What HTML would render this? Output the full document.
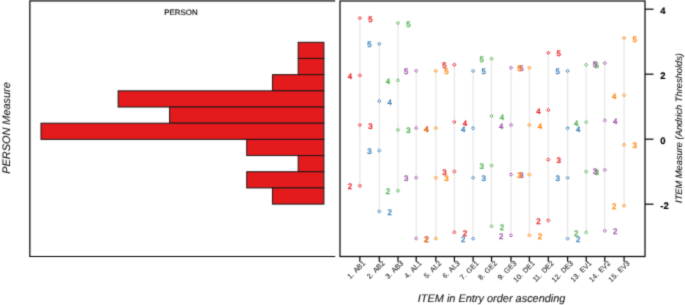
<!DOCTYPE html><html><head><meta charset="utf-8"><style>html,body{margin:0;padding:0;background:#fff;overflow:hidden}svg{display:block;}text{font-family:"Liberation Sans",sans-serif;text-rendering:geometricPrecision}</style></head><body>
<svg width="685" height="305" viewBox="0 0 685 305">
<rect width="685" height="305" fill="#fff"/>
<defs><filter id="bl" filterUnits="userSpaceOnUse" x="-5" y="-5" width="695" height="315" color-interpolation-filters="sRGB"><feConvolveMatrix order="3" kernelMatrix="0.0225 0.105 0.0225 0.105 0.49 0.105 0.0225 0.105 0.0225" edgeMode="duplicate" preserveAlpha="true"/></filter></defs><g filter="url(#bl)">
<rect x="-5" y="-5" width="695" height="315" fill="#fff"/>
<rect x="298.18" y="42.30" width="25.72" height="16.18" fill="#E41A1C" stroke="#1a1a1a" stroke-width="1"/>
<rect x="298.18" y="58.48" width="25.72" height="16.18" fill="#E41A1C" stroke="#1a1a1a" stroke-width="1"/>
<rect x="272.46" y="74.66" width="51.44" height="16.18" fill="#E41A1C" stroke="#1a1a1a" stroke-width="1"/>
<rect x="118.14" y="90.84" width="205.76" height="16.18" fill="#E41A1C" stroke="#1a1a1a" stroke-width="1"/>
<rect x="169.58" y="107.02" width="154.32" height="16.18" fill="#E41A1C" stroke="#1a1a1a" stroke-width="1"/>
<rect x="40.98" y="123.20" width="282.92" height="16.18" fill="#E41A1C" stroke="#1a1a1a" stroke-width="1"/>
<rect x="246.74" y="139.38" width="77.16" height="16.18" fill="#E41A1C" stroke="#1a1a1a" stroke-width="1"/>
<rect x="298.18" y="155.56" width="25.72" height="16.18" fill="#E41A1C" stroke="#1a1a1a" stroke-width="1"/>
<rect x="246.74" y="171.74" width="77.16" height="16.18" fill="#E41A1C" stroke="#1a1a1a" stroke-width="1"/>
<rect x="272.46" y="187.92" width="51.44" height="16.18" fill="#E41A1C" stroke="#1a1a1a" stroke-width="1"/>
<path d="M335.2,0.95 H29.85 V256.5 H335.2" fill="none" stroke="#000" stroke-width="1.22"/>
<text x="181" y="15.0" font-size="7.9" text-anchor="middle" fill="#111" stroke="#111" stroke-width="0.2">PERSON</text>
<text transform="translate(10.3,128) rotate(-90)" font-size="10.9" font-style="italic" text-anchor="middle" fill="#111" stroke="#111" stroke-width="0.08">PERSON Measure</text>
<rect x="340.0" y="0.95" width="305.0" height="255.55" fill="none" stroke="#000" stroke-width="1.22"/>
<line x1="359.85" y1="18.12" x2="359.85" y2="185.81" stroke="#e4e4e4" stroke-width="1.1"/>
<line x1="379.30" y1="43.77" x2="379.30" y2="211.46" stroke="#e4e4e4" stroke-width="1.1"/>
<line x1="397.95" y1="23.07" x2="397.95" y2="190.76" stroke="#e4e4e4" stroke-width="1.1"/>
<line x1="416.20" y1="70.77" x2="416.20" y2="238.46" stroke="#e4e4e4" stroke-width="1.1"/>
<line x1="435.85" y1="70.86" x2="435.85" y2="238.56" stroke="#e4e4e4" stroke-width="1.1"/>
<line x1="454.40" y1="64.67" x2="454.40" y2="232.37" stroke="#e4e4e4" stroke-width="1.1"/>
<line x1="473.10" y1="70.92" x2="473.10" y2="238.62" stroke="#e4e4e4" stroke-width="1.1"/>
<line x1="491.55" y1="58.67" x2="491.55" y2="226.37" stroke="#e4e4e4" stroke-width="1.1"/>
<line x1="511.00" y1="67.72" x2="511.00" y2="235.42" stroke="#e4e4e4" stroke-width="1.1"/>
<line x1="529.35" y1="67.69" x2="529.35" y2="235.39" stroke="#e4e4e4" stroke-width="1.1"/>
<line x1="548.30" y1="52.77" x2="548.30" y2="220.46" stroke="#e4e4e4" stroke-width="1.1"/>
<line x1="567.60" y1="70.92" x2="567.60" y2="238.62" stroke="#e4e4e4" stroke-width="1.1"/>
<line x1="586.20" y1="64.77" x2="586.20" y2="232.46" stroke="#e4e4e4" stroke-width="1.1"/>
<line x1="604.80" y1="63.09" x2="604.80" y2="230.79" stroke="#e4e4e4" stroke-width="1.1"/>
<line x1="624.10" y1="37.97" x2="624.10" y2="205.66" stroke="#e4e4e4" stroke-width="1.1"/>
<path d="M359.85,184.22 L361.45,185.81 L359.85,187.41 L358.25,185.81 Z" fill="#fff" stroke="#E41A1C" stroke-width="1.0"/>
<text x="349.95" y="189.39" font-size="7.9" font-weight="normal" text-anchor="middle" fill="#E41A1C" stroke="#E41A1C" stroke-width="0.33">2</text>
<path d="M359.85,123.37 L361.45,124.97 L359.85,126.56 L358.25,124.97 Z" fill="#fff" stroke="#E41A1C" stroke-width="1.0"/>
<text x="370.35" y="128.54" font-size="7.9" font-weight="normal" text-anchor="middle" fill="#E41A1C" stroke="#E41A1C" stroke-width="0.33">3</text>
<path d="M359.85,73.82 L361.45,75.42 L359.85,77.02 L358.25,75.42 Z" fill="#fff" stroke="#E41A1C" stroke-width="1.0"/>
<text x="349.95" y="78.99" font-size="7.9" font-weight="normal" text-anchor="middle" fill="#E41A1C" stroke="#E41A1C" stroke-width="0.33">4</text>
<path d="M359.85,16.52 L361.45,18.12 L359.85,19.72 L358.25,18.12 Z" fill="#fff" stroke="#E41A1C" stroke-width="1.0"/>
<text x="370.35" y="21.69" font-size="7.9" font-weight="normal" text-anchor="middle" fill="#E41A1C" stroke="#E41A1C" stroke-width="0.33">5</text>
<path d="M379.30,209.86 L380.90,211.46 L379.30,213.06 L377.70,211.46 Z" fill="#fff" stroke="#377EB8" stroke-width="1.0"/>
<text x="389.80" y="215.04" font-size="7.9" font-weight="normal" text-anchor="middle" fill="#377EB8" stroke="#377EB8" stroke-width="0.33">2</text>
<path d="M379.30,149.02 L380.90,150.62 L379.30,152.22 L377.70,150.62 Z" fill="#fff" stroke="#377EB8" stroke-width="1.0"/>
<text x="369.40" y="154.19" font-size="7.9" font-weight="normal" text-anchor="middle" fill="#377EB8" stroke="#377EB8" stroke-width="0.33">3</text>
<path d="M379.30,99.47 L380.90,101.06 L379.30,102.66 L377.70,101.06 Z" fill="#fff" stroke="#377EB8" stroke-width="1.0"/>
<text x="389.80" y="104.64" font-size="7.9" font-weight="normal" text-anchor="middle" fill="#377EB8" stroke="#377EB8" stroke-width="0.33">4</text>
<path d="M379.30,42.16 L380.90,43.77 L379.30,45.37 L377.70,43.77 Z" fill="#fff" stroke="#377EB8" stroke-width="1.0"/>
<text x="369.40" y="47.34" font-size="7.9" font-weight="normal" text-anchor="middle" fill="#377EB8" stroke="#377EB8" stroke-width="0.33">5</text>
<path d="M397.95,189.16 L399.55,190.76 L397.95,192.36 L396.35,190.76 Z" fill="#fff" stroke="#4DAF4A" stroke-width="1.0"/>
<text x="388.05" y="194.34" font-size="7.9" font-weight="normal" text-anchor="middle" fill="#4DAF4A" stroke="#4DAF4A" stroke-width="0.33">2</text>
<path d="M397.95,128.32 L399.55,129.92 L397.95,131.52 L396.35,129.92 Z" fill="#fff" stroke="#4DAF4A" stroke-width="1.0"/>
<text x="408.45" y="133.49" font-size="7.9" font-weight="normal" text-anchor="middle" fill="#4DAF4A" stroke="#4DAF4A" stroke-width="0.33">3</text>
<path d="M397.95,78.77 L399.55,80.37 L397.95,81.97 L396.35,80.37 Z" fill="#fff" stroke="#4DAF4A" stroke-width="1.0"/>
<text x="388.05" y="83.94" font-size="7.9" font-weight="normal" text-anchor="middle" fill="#4DAF4A" stroke="#4DAF4A" stroke-width="0.33">4</text>
<path d="M397.95,21.47 L399.55,23.07 L397.95,24.67 L396.35,23.07 Z" fill="#fff" stroke="#4DAF4A" stroke-width="1.0"/>
<text x="408.45" y="26.64" font-size="7.9" font-weight="normal" text-anchor="middle" fill="#4DAF4A" stroke="#4DAF4A" stroke-width="0.33">5</text>
<path d="M416.20,236.86 L417.80,238.46 L416.20,240.06 L414.60,238.46 Z" fill="#fff" stroke="#984EA3" stroke-width="1.0"/>
<text x="426.70" y="242.04" font-size="7.9" font-weight="normal" text-anchor="middle" fill="#984EA3" stroke="#984EA3" stroke-width="0.33">2</text>
<path d="M416.20,176.02 L417.80,177.62 L416.20,179.22 L414.60,177.62 Z" fill="#fff" stroke="#984EA3" stroke-width="1.0"/>
<text x="406.30" y="181.19" font-size="7.9" font-weight="normal" text-anchor="middle" fill="#984EA3" stroke="#984EA3" stroke-width="0.33">3</text>
<path d="M416.20,126.47 L417.80,128.06 L416.20,129.66 L414.60,128.06 Z" fill="#fff" stroke="#984EA3" stroke-width="1.0"/>
<text x="426.70" y="131.64" font-size="7.9" font-weight="normal" text-anchor="middle" fill="#984EA3" stroke="#984EA3" stroke-width="0.33">4</text>
<path d="M416.20,69.17 L417.80,70.77 L416.20,72.36 L414.60,70.77 Z" fill="#fff" stroke="#984EA3" stroke-width="1.0"/>
<text x="406.30" y="74.34" font-size="7.9" font-weight="normal" text-anchor="middle" fill="#984EA3" stroke="#984EA3" stroke-width="0.33">5</text>
<path d="M435.85,236.97 L437.45,238.56 L435.85,240.16 L434.25,238.56 Z" fill="#fff" stroke="#FF7F00" stroke-width="1.0"/>
<text x="425.95" y="242.14" font-size="7.9" font-weight="normal" text-anchor="middle" fill="#FF7F00" stroke="#FF7F00" stroke-width="0.33">2</text>
<path d="M435.85,176.11 L437.45,177.71 L435.85,179.31 L434.25,177.71 Z" fill="#fff" stroke="#FF7F00" stroke-width="1.0"/>
<text x="446.35" y="181.29" font-size="7.9" font-weight="normal" text-anchor="middle" fill="#FF7F00" stroke="#FF7F00" stroke-width="0.33">3</text>
<path d="M435.85,126.56 L437.45,128.16 L435.85,129.76 L434.25,128.16 Z" fill="#fff" stroke="#FF7F00" stroke-width="1.0"/>
<text x="425.95" y="131.74" font-size="7.9" font-weight="normal" text-anchor="middle" fill="#FF7F00" stroke="#FF7F00" stroke-width="0.33">4</text>
<path d="M435.85,69.27 L437.45,70.86 L435.85,72.46 L434.25,70.86 Z" fill="#fff" stroke="#FF7F00" stroke-width="1.0"/>
<text x="446.35" y="74.44" font-size="7.9" font-weight="normal" text-anchor="middle" fill="#FF7F00" stroke="#FF7F00" stroke-width="0.33">5</text>
<path d="M454.40,230.77 L456.00,232.37 L454.40,233.97 L452.80,232.37 Z" fill="#fff" stroke="#E41A1C" stroke-width="1.0"/>
<text x="464.90" y="235.94" font-size="7.9" font-weight="normal" text-anchor="middle" fill="#E41A1C" stroke="#E41A1C" stroke-width="0.33">2</text>
<path d="M454.40,169.91 L456.00,171.51 L454.40,173.11 L452.80,171.51 Z" fill="#fff" stroke="#E41A1C" stroke-width="1.0"/>
<text x="444.50" y="175.09" font-size="7.9" font-weight="normal" text-anchor="middle" fill="#E41A1C" stroke="#E41A1C" stroke-width="0.33">3</text>
<path d="M454.40,120.37 L456.00,121.97 L454.40,123.56 L452.80,121.97 Z" fill="#fff" stroke="#E41A1C" stroke-width="1.0"/>
<text x="464.90" y="125.54" font-size="7.9" font-weight="normal" text-anchor="middle" fill="#E41A1C" stroke="#E41A1C" stroke-width="0.33">4</text>
<path d="M454.40,63.07 L456.00,64.67 L454.40,66.27 L452.80,64.67 Z" fill="#fff" stroke="#E41A1C" stroke-width="1.0"/>
<text x="444.50" y="68.24" font-size="7.9" font-weight="normal" text-anchor="middle" fill="#E41A1C" stroke="#E41A1C" stroke-width="0.33">5</text>
<path d="M473.10,237.02 L474.70,238.62 L473.10,240.22 L471.50,238.62 Z" fill="#fff" stroke="#377EB8" stroke-width="1.0"/>
<text x="463.20" y="242.19" font-size="7.9" font-weight="normal" text-anchor="middle" fill="#377EB8" stroke="#377EB8" stroke-width="0.33">2</text>
<path d="M473.10,176.16 L474.70,177.76 L473.10,179.36 L471.50,177.76 Z" fill="#fff" stroke="#377EB8" stroke-width="1.0"/>
<text x="483.60" y="181.34" font-size="7.9" font-weight="normal" text-anchor="middle" fill="#377EB8" stroke="#377EB8" stroke-width="0.33">3</text>
<path d="M473.10,126.62 L474.70,128.22 L473.10,129.81 L471.50,128.22 Z" fill="#fff" stroke="#377EB8" stroke-width="1.0"/>
<text x="463.20" y="131.79" font-size="7.9" font-weight="normal" text-anchor="middle" fill="#377EB8" stroke="#377EB8" stroke-width="0.33">4</text>
<path d="M473.10,69.32 L474.70,70.92 L473.10,72.52 L471.50,70.92 Z" fill="#fff" stroke="#377EB8" stroke-width="1.0"/>
<text x="483.60" y="74.49" font-size="7.9" font-weight="normal" text-anchor="middle" fill="#377EB8" stroke="#377EB8" stroke-width="0.33">5</text>
<path d="M491.55,224.77 L493.15,226.37 L491.55,227.97 L489.95,226.37 Z" fill="#fff" stroke="#4DAF4A" stroke-width="1.0"/>
<text x="502.05" y="229.94" font-size="7.9" font-weight="normal" text-anchor="middle" fill="#4DAF4A" stroke="#4DAF4A" stroke-width="0.33">2</text>
<path d="M491.55,163.91 L493.15,165.51 L491.55,167.11 L489.95,165.51 Z" fill="#fff" stroke="#4DAF4A" stroke-width="1.0"/>
<text x="481.65" y="169.09" font-size="7.9" font-weight="normal" text-anchor="middle" fill="#4DAF4A" stroke="#4DAF4A" stroke-width="0.33">3</text>
<path d="M491.55,114.37 L493.15,115.97 L491.55,117.56 L489.95,115.97 Z" fill="#fff" stroke="#4DAF4A" stroke-width="1.0"/>
<text x="502.05" y="119.54" font-size="7.9" font-weight="normal" text-anchor="middle" fill="#4DAF4A" stroke="#4DAF4A" stroke-width="0.33">4</text>
<path d="M491.55,57.07 L493.15,58.67 L491.55,60.27 L489.95,58.67 Z" fill="#fff" stroke="#4DAF4A" stroke-width="1.0"/>
<text x="481.65" y="62.24" font-size="7.9" font-weight="normal" text-anchor="middle" fill="#4DAF4A" stroke="#4DAF4A" stroke-width="0.33">5</text>
<path d="M511.00,233.82 L512.60,235.42 L511.00,237.02 L509.40,235.42 Z" fill="#fff" stroke="#984EA3" stroke-width="1.0"/>
<text x="501.10" y="238.99" font-size="7.9" font-weight="normal" text-anchor="middle" fill="#984EA3" stroke="#984EA3" stroke-width="0.33">2</text>
<path d="M511.00,172.97 L512.60,174.56 L511.00,176.16 L509.40,174.56 Z" fill="#fff" stroke="#984EA3" stroke-width="1.0"/>
<text x="521.50" y="178.14" font-size="7.9" font-weight="normal" text-anchor="middle" fill="#984EA3" stroke="#984EA3" stroke-width="0.33">3</text>
<path d="M511.00,123.42 L512.60,125.02 L511.00,126.62 L509.40,125.02 Z" fill="#fff" stroke="#984EA3" stroke-width="1.0"/>
<text x="501.10" y="128.59" font-size="7.9" font-weight="normal" text-anchor="middle" fill="#984EA3" stroke="#984EA3" stroke-width="0.33">4</text>
<path d="M511.00,66.12 L512.60,67.72 L511.00,69.32 L509.40,67.72 Z" fill="#fff" stroke="#984EA3" stroke-width="1.0"/>
<text x="521.50" y="71.29" font-size="7.9" font-weight="normal" text-anchor="middle" fill="#984EA3" stroke="#984EA3" stroke-width="0.33">5</text>
<path d="M529.35,233.79 L530.95,235.39 L529.35,236.99 L527.75,235.39 Z" fill="#fff" stroke="#FF7F00" stroke-width="1.0"/>
<text x="539.85" y="238.97" font-size="7.9" font-weight="normal" text-anchor="middle" fill="#FF7F00" stroke="#FF7F00" stroke-width="0.33">2</text>
<path d="M529.35,172.94 L530.95,174.54 L529.35,176.14 L527.75,174.54 Z" fill="#fff" stroke="#FF7F00" stroke-width="1.0"/>
<text x="519.45" y="178.12" font-size="7.9" font-weight="normal" text-anchor="middle" fill="#FF7F00" stroke="#FF7F00" stroke-width="0.33">3</text>
<path d="M529.35,123.39 L530.95,124.99 L529.35,126.59 L527.75,124.99 Z" fill="#fff" stroke="#FF7F00" stroke-width="1.0"/>
<text x="539.85" y="128.57" font-size="7.9" font-weight="normal" text-anchor="middle" fill="#FF7F00" stroke="#FF7F00" stroke-width="0.33">4</text>
<path d="M529.35,66.09 L530.95,67.69 L529.35,69.29 L527.75,67.69 Z" fill="#fff" stroke="#FF7F00" stroke-width="1.0"/>
<text x="519.45" y="71.27" font-size="7.9" font-weight="normal" text-anchor="middle" fill="#FF7F00" stroke="#FF7F00" stroke-width="0.33">5</text>
<path d="M548.30,218.86 L549.90,220.46 L548.30,222.06 L546.70,220.46 Z" fill="#fff" stroke="#E41A1C" stroke-width="1.0"/>
<text x="538.40" y="224.04" font-size="7.9" font-weight="normal" text-anchor="middle" fill="#E41A1C" stroke="#E41A1C" stroke-width="0.33">2</text>
<path d="M548.30,158.02 L549.90,159.62 L548.30,161.22 L546.70,159.62 Z" fill="#fff" stroke="#E41A1C" stroke-width="1.0"/>
<text x="558.80" y="163.19" font-size="7.9" font-weight="normal" text-anchor="middle" fill="#E41A1C" stroke="#E41A1C" stroke-width="0.33">3</text>
<path d="M548.30,108.47 L549.90,110.06 L548.30,111.66 L546.70,110.06 Z" fill="#fff" stroke="#E41A1C" stroke-width="1.0"/>
<text x="538.40" y="113.64" font-size="7.9" font-weight="normal" text-anchor="middle" fill="#E41A1C" stroke="#E41A1C" stroke-width="0.33">4</text>
<path d="M548.30,51.16 L549.90,52.77 L548.30,54.37 L546.70,52.77 Z" fill="#fff" stroke="#E41A1C" stroke-width="1.0"/>
<text x="558.80" y="56.34" font-size="7.9" font-weight="normal" text-anchor="middle" fill="#E41A1C" stroke="#E41A1C" stroke-width="0.33">5</text>
<path d="M567.60,237.02 L569.20,238.62 L567.60,240.22 L566.00,238.62 Z" fill="#fff" stroke="#377EB8" stroke-width="1.0"/>
<text x="578.10" y="242.19" font-size="7.9" font-weight="normal" text-anchor="middle" fill="#377EB8" stroke="#377EB8" stroke-width="0.33">2</text>
<path d="M567.60,176.16 L569.20,177.76 L567.60,179.36 L566.00,177.76 Z" fill="#fff" stroke="#377EB8" stroke-width="1.0"/>
<text x="557.70" y="181.34" font-size="7.9" font-weight="normal" text-anchor="middle" fill="#377EB8" stroke="#377EB8" stroke-width="0.33">3</text>
<path d="M567.60,126.62 L569.20,128.22 L567.60,129.81 L566.00,128.22 Z" fill="#fff" stroke="#377EB8" stroke-width="1.0"/>
<text x="578.10" y="131.79" font-size="7.9" font-weight="normal" text-anchor="middle" fill="#377EB8" stroke="#377EB8" stroke-width="0.33">4</text>
<path d="M567.60,69.32 L569.20,70.92 L567.60,72.52 L566.00,70.92 Z" fill="#fff" stroke="#377EB8" stroke-width="1.0"/>
<text x="557.70" y="74.49" font-size="7.9" font-weight="normal" text-anchor="middle" fill="#377EB8" stroke="#377EB8" stroke-width="0.33">5</text>
<path d="M586.20,230.86 L587.80,232.46 L586.20,234.06 L584.60,232.46 Z" fill="#fff" stroke="#4DAF4A" stroke-width="1.0"/>
<text x="576.30" y="236.04" font-size="7.9" font-weight="normal" text-anchor="middle" fill="#4DAF4A" stroke="#4DAF4A" stroke-width="0.33">2</text>
<path d="M586.20,170.02 L587.80,171.62 L586.20,173.22 L584.60,171.62 Z" fill="#fff" stroke="#4DAF4A" stroke-width="1.0"/>
<text x="596.70" y="175.19" font-size="7.9" font-weight="normal" text-anchor="middle" fill="#4DAF4A" stroke="#4DAF4A" stroke-width="0.33">3</text>
<path d="M586.20,120.47 L587.80,122.06 L586.20,123.66 L584.60,122.06 Z" fill="#fff" stroke="#4DAF4A" stroke-width="1.0"/>
<text x="576.30" y="125.64" font-size="7.9" font-weight="normal" text-anchor="middle" fill="#4DAF4A" stroke="#4DAF4A" stroke-width="0.33">4</text>
<path d="M586.20,63.16 L587.80,64.77 L586.20,66.36 L584.60,64.77 Z" fill="#fff" stroke="#4DAF4A" stroke-width="1.0"/>
<text x="596.70" y="68.34" font-size="7.9" font-weight="normal" text-anchor="middle" fill="#4DAF4A" stroke="#4DAF4A" stroke-width="0.33">5</text>
<path d="M604.80,229.19 L606.40,230.79 L604.80,232.39 L603.20,230.79 Z" fill="#fff" stroke="#984EA3" stroke-width="1.0"/>
<text x="615.30" y="234.37" font-size="7.9" font-weight="normal" text-anchor="middle" fill="#984EA3" stroke="#984EA3" stroke-width="0.33">2</text>
<path d="M604.80,168.34 L606.40,169.94 L604.80,171.54 L603.20,169.94 Z" fill="#fff" stroke="#984EA3" stroke-width="1.0"/>
<text x="594.90" y="173.52" font-size="7.9" font-weight="normal" text-anchor="middle" fill="#984EA3" stroke="#984EA3" stroke-width="0.33">3</text>
<path d="M604.80,118.79 L606.40,120.39 L604.80,121.99 L603.20,120.39 Z" fill="#fff" stroke="#984EA3" stroke-width="1.0"/>
<text x="615.30" y="123.97" font-size="7.9" font-weight="normal" text-anchor="middle" fill="#984EA3" stroke="#984EA3" stroke-width="0.33">4</text>
<path d="M604.80,61.49 L606.40,63.09 L604.80,64.69 L603.20,63.09 Z" fill="#fff" stroke="#984EA3" stroke-width="1.0"/>
<text x="594.90" y="66.67" font-size="7.9" font-weight="normal" text-anchor="middle" fill="#984EA3" stroke="#984EA3" stroke-width="0.33">5</text>
<path d="M624.10,204.06 L625.70,205.66 L624.10,207.26 L622.50,205.66 Z" fill="#fff" stroke="#FF7F00" stroke-width="1.0"/>
<text x="614.20" y="209.24" font-size="7.9" font-weight="normal" text-anchor="middle" fill="#FF7F00" stroke="#FF7F00" stroke-width="0.33">2</text>
<path d="M624.10,143.22 L625.70,144.81 L624.10,146.41 L622.50,144.81 Z" fill="#fff" stroke="#FF7F00" stroke-width="1.0"/>
<text x="634.60" y="148.39" font-size="7.9" font-weight="normal" text-anchor="middle" fill="#FF7F00" stroke="#FF7F00" stroke-width="0.33">3</text>
<path d="M624.10,93.67 L625.70,95.27 L624.10,96.86 L622.50,95.27 Z" fill="#fff" stroke="#FF7F00" stroke-width="1.0"/>
<text x="614.20" y="98.84" font-size="7.9" font-weight="normal" text-anchor="middle" fill="#FF7F00" stroke="#FF7F00" stroke-width="0.33">4</text>
<path d="M624.10,36.37 L625.70,37.97 L624.10,39.57 L622.50,37.97 Z" fill="#fff" stroke="#FF7F00" stroke-width="1.0"/>
<text x="634.60" y="41.54" font-size="7.9" font-weight="normal" text-anchor="middle" fill="#FF7F00" stroke="#FF7F00" stroke-width="0.33">5</text>
<line x1="645.0" y1="9.199999999999989" x2="653.5" y2="9.199999999999989" stroke="#000" stroke-width="1.22"/>
<text x="660.3" y="14.10" font-size="9.5" font-weight="bold" fill="#000" stroke="#000" stroke-width="0.15">4</text>
<line x1="645.0" y1="74.19999999999999" x2="653.5" y2="74.19999999999999" stroke="#000" stroke-width="1.22"/>
<text x="660.3" y="79.10" font-size="9.5" font-weight="bold" fill="#000" stroke="#000" stroke-width="0.15">2</text>
<line x1="645.0" y1="139.2" x2="653.5" y2="139.2" stroke="#000" stroke-width="1.22"/>
<text x="660.3" y="144.10" font-size="9.5" font-weight="bold" fill="#000" stroke="#000" stroke-width="0.15">0</text>
<line x1="645.0" y1="204.2" x2="653.5" y2="204.2" stroke="#000" stroke-width="1.22"/>
<text x="660.3" y="209.10" font-size="9.5" font-weight="bold" fill="#000" stroke="#000" stroke-width="0.15">-2</text>
<text transform="translate(682.3,128.0) rotate(-90)" font-size="9.3" font-style="italic" text-anchor="middle" fill="#111" stroke="#111" stroke-width="0.08">ITEM Measure (Andrich Thresholds)</text>
<line x1="359.85" y1="256.5" x2="359.85" y2="261.7" stroke="#000" stroke-width="1.22"/>
<text transform="translate(365.85,263.70) rotate(-45)" font-size="7.2" word-spacing="0.9" text-anchor="end" fill="#111" stroke="#111" stroke-width="0.05">1. AB1</text>
<line x1="379.30" y1="256.5" x2="379.30" y2="261.7" stroke="#000" stroke-width="1.22"/>
<text transform="translate(385.30,263.70) rotate(-45)" font-size="7.2" word-spacing="0.9" text-anchor="end" fill="#111" stroke="#111" stroke-width="0.05">2. AB2</text>
<line x1="397.95" y1="256.5" x2="397.95" y2="261.7" stroke="#000" stroke-width="1.22"/>
<text transform="translate(403.95,263.70) rotate(-45)" font-size="7.2" word-spacing="0.9" text-anchor="end" fill="#111" stroke="#111" stroke-width="0.05">3. AB3</text>
<line x1="416.20" y1="256.5" x2="416.20" y2="261.7" stroke="#000" stroke-width="1.22"/>
<text transform="translate(422.20,263.70) rotate(-45)" font-size="7.2" word-spacing="0.9" text-anchor="end" fill="#111" stroke="#111" stroke-width="0.05">4. AL1</text>
<line x1="435.85" y1="256.5" x2="435.85" y2="261.7" stroke="#000" stroke-width="1.22"/>
<text transform="translate(441.85,263.70) rotate(-45)" font-size="7.2" word-spacing="0.9" text-anchor="end" fill="#111" stroke="#111" stroke-width="0.05">5. AL2</text>
<line x1="454.40" y1="256.5" x2="454.40" y2="261.7" stroke="#000" stroke-width="1.22"/>
<text transform="translate(460.40,263.70) rotate(-45)" font-size="7.2" word-spacing="0.9" text-anchor="end" fill="#111" stroke="#111" stroke-width="0.05">6. AL3</text>
<line x1="473.10" y1="256.5" x2="473.10" y2="261.7" stroke="#000" stroke-width="1.22"/>
<text transform="translate(479.10,263.70) rotate(-45)" font-size="7.2" word-spacing="0.9" text-anchor="end" fill="#111" stroke="#111" stroke-width="0.05">7. GE1</text>
<line x1="491.55" y1="256.5" x2="491.55" y2="261.7" stroke="#000" stroke-width="1.22"/>
<text transform="translate(497.55,263.70) rotate(-45)" font-size="7.2" word-spacing="0.9" text-anchor="end" fill="#111" stroke="#111" stroke-width="0.05">8. GE2</text>
<line x1="511.00" y1="256.5" x2="511.00" y2="261.7" stroke="#000" stroke-width="1.22"/>
<text transform="translate(517.00,263.70) rotate(-45)" font-size="7.2" word-spacing="0.9" text-anchor="end" fill="#111" stroke="#111" stroke-width="0.05">9. GE3</text>
<line x1="529.35" y1="256.5" x2="529.35" y2="261.7" stroke="#000" stroke-width="1.22"/>
<text transform="translate(535.35,263.70) rotate(-45)" font-size="7.2" word-spacing="0.9" text-anchor="end" fill="#111" stroke="#111" stroke-width="0.05">10. DE1</text>
<line x1="548.30" y1="256.5" x2="548.30" y2="261.7" stroke="#000" stroke-width="1.22"/>
<text transform="translate(554.30,263.70) rotate(-45)" font-size="7.2" word-spacing="0.9" text-anchor="end" fill="#111" stroke="#111" stroke-width="0.05">11. DE2</text>
<line x1="567.60" y1="256.5" x2="567.60" y2="261.7" stroke="#000" stroke-width="1.22"/>
<text transform="translate(573.60,263.70) rotate(-45)" font-size="7.2" word-spacing="0.9" text-anchor="end" fill="#111" stroke="#111" stroke-width="0.05">12. DE3</text>
<line x1="586.20" y1="256.5" x2="586.20" y2="261.7" stroke="#000" stroke-width="1.22"/>
<text transform="translate(592.20,263.70) rotate(-45)" font-size="7.2" word-spacing="0.9" text-anchor="end" fill="#111" stroke="#111" stroke-width="0.05">13. EV1</text>
<line x1="604.80" y1="256.5" x2="604.80" y2="261.7" stroke="#000" stroke-width="1.22"/>
<text transform="translate(610.80,263.70) rotate(-45)" font-size="7.2" word-spacing="0.9" text-anchor="end" fill="#111" stroke="#111" stroke-width="0.05">14. EV2</text>
<line x1="624.10" y1="256.5" x2="624.10" y2="261.7" stroke="#000" stroke-width="1.22"/>
<text transform="translate(630.10,263.70) rotate(-45)" font-size="7.2" word-spacing="0.9" text-anchor="end" fill="#111" stroke="#111" stroke-width="0.05">15. EV3</text>
<text x="491.6" y="301.55" font-size="10.95" font-style="italic" text-anchor="middle" fill="#111" stroke="#111" stroke-width="0.08">ITEM in Entry order ascending</text>
</g>
</svg></body></html>
